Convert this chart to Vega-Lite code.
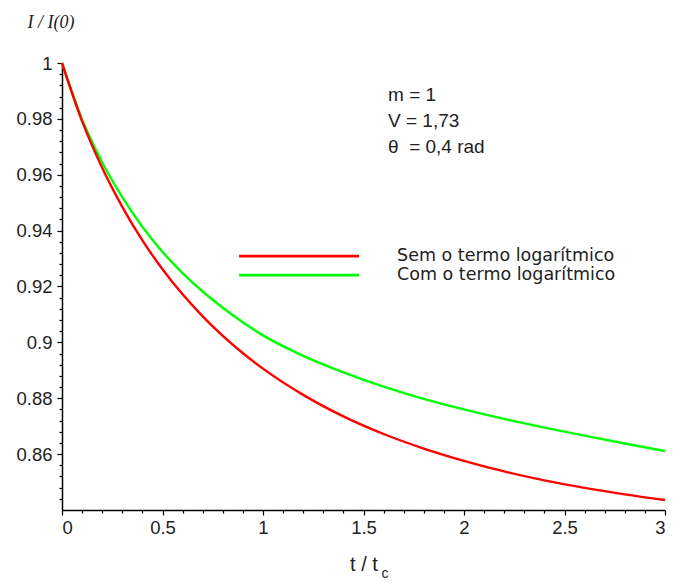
{
  "$schema": "https://vega.github.io/schema/vega-lite/v6.json",
  "autosize": "none",
  "width": 603,
  "height": 447,
  "padding": {"left": 62, "top": 63, "right": 8, "bottom": 73},
  "background": "white",
  "config": {
    "view": {"stroke": null},
    "font": "Liberation Sans",
    "axis": {"grid": false, "domainColor": "#000", "domainWidth": 1.5, "tickColor": "#000", "tickWidth": 1.2, "labelColor": "#222", "labelFont": "Liberation Sans", "labelFontSize": 18.5, "titleColor": "#222"}
  },
  "datasets": {
    "curves": [
      {"t": 0, "I": 1.0, "serie": "Com o termo logarítmico"},
      {"t": 0.1, "I": 0.9798, "serie": "Com o termo logarítmico"},
      {"t": 0.2, "I": 0.9645, "serie": "Com o termo logarítmico"},
      {"t": 0.3, "I": 0.952, "serie": "Com o termo logarítmico"},
      {"t": 0.4, "I": 0.9414, "serie": "Com o termo logarítmico"},
      {"t": 0.5, "I": 0.9324, "serie": "Com o termo logarítmico"},
      {"t": 0.6, "I": 0.9248, "serie": "Com o termo logarítmico"},
      {"t": 0.7, "I": 0.9182, "serie": "Com o termo logarítmico"},
      {"t": 0.8, "I": 0.9124, "serie": "Com o termo logarítmico"},
      {"t": 0.9, "I": 0.9072, "serie": "Com o termo logarítmico"},
      {"t": 1.0, "I": 0.9025, "serie": "Com o termo logarítmico"},
      {"t": 1.2, "I": 0.8952, "serie": "Com o termo logarítmico"},
      {"t": 1.4, "I": 0.8893, "serie": "Com o termo logarítmico"},
      {"t": 1.6, "I": 0.8842, "serie": "Com o termo logarítmico"},
      {"t": 1.8, "I": 0.8798, "serie": "Com o termo logarítmico"},
      {"t": 2.0, "I": 0.876, "serie": "Com o termo logarítmico"},
      {"t": 2.2, "I": 0.8726, "serie": "Com o termo logarítmico"},
      {"t": 2.4, "I": 0.8695, "serie": "Com o termo logarítmico"},
      {"t": 2.6, "I": 0.8666, "serie": "Com o termo logarítmico"},
      {"t": 2.8, "I": 0.8638, "serie": "Com o termo logarítmico"},
      {"t": 3.0, "I": 0.8611, "serie": "Com o termo logarítmico"},
      {"t": 0, "I": 1.0, "serie": "Sem o termo logarítmico"},
      {"t": 0.1, "I": 0.9792, "serie": "Sem o termo logarítmico"},
      {"t": 0.2, "I": 0.9625, "serie": "Sem o termo logarítmico"},
      {"t": 0.3, "I": 0.9485, "serie": "Sem o termo logarítmico"},
      {"t": 0.4, "I": 0.9365, "serie": "Sem o termo logarítmico"},
      {"t": 0.5, "I": 0.9262, "serie": "Sem o termo logarítmico"},
      {"t": 0.6, "I": 0.9172, "serie": "Sem o termo logarítmico"},
      {"t": 0.7, "I": 0.9093, "serie": "Sem o termo logarítmico"},
      {"t": 0.8, "I": 0.9023, "serie": "Sem o termo logarítmico"},
      {"t": 0.9, "I": 0.8961, "serie": "Sem o termo logarítmico"},
      {"t": 1.0, "I": 0.8906, "serie": "Sem o termo logarítmico"},
      {"t": 1.2, "I": 0.8812, "serie": "Sem o termo logarítmico"},
      {"t": 1.4, "I": 0.8735, "serie": "Sem o termo logarítmico"},
      {"t": 1.6, "I": 0.8672, "serie": "Sem o termo logarítmico"},
      {"t": 1.8, "I": 0.862, "serie": "Sem o termo logarítmico"},
      {"t": 2.0, "I": 0.8576, "serie": "Sem o termo logarítmico"},
      {"t": 2.2, "I": 0.8538, "serie": "Sem o termo logarítmico"},
      {"t": 2.4, "I": 0.8506, "serie": "Sem o termo logarítmico"},
      {"t": 2.6, "I": 0.8479, "serie": "Sem o termo logarítmico"},
      {"t": 2.8, "I": 0.8456, "serie": "Sem o termo logarítmico"},
      {"t": 3.0, "I": 0.8436, "serie": "Sem o termo logarítmico"}
    ],
    "legend": [
      {"serie": "Sem o termo logarítmico", "x1": 0.881, "x2": 1.478, "y": 0.9309, "tx": 1.667},
      {"serie": "Com o termo logarítmico", "x1": 0.881, "x2": 1.478, "y": 0.9241, "tx": 1.667}
    ],
    "notes": [
      {"label": "m = 1", "x": 1.622, "y": 0.9885},
      {"label": "V = 1,73", "x": 1.622, "y": 0.9792},
      {"label": "θ\u00a0 = 0,4 rad", "x": 1.622, "y": 0.970}
    ],
    "sub": [
      {"label": "c", "x": 1.59, "y": 0.817}
    ]
  },
  "resolve": {"axis": {"x": "independent", "y": "independent"}},
  "layer": [
    {
      "data": {"name": "curves"},
      "mark": {"type": "line", "strokeWidth": 2.4, "interpolate": "monotone", "clip": false},
      "encoding": {
        "x": {"field": "t", "type": "quantitative", "scale": {"domain": [0, 3], "nice": false, "zero": false},
          "axis": {"orient": "bottom", "values": [0, 0.5, 1, 1.5, 2, 2.5, 3], "format": "~g", "tickSize": 5, "labelPadding": 3, "title": "t / t", "titleFont": "Liberation Sans", "titleFontSize": 20, "titleFontWeight": "normal", "titlePadding": 18}},
        "y": {"field": "I", "type": "quantitative", "scale": {"domain": [0.84, 1], "nice": false, "zero": false},
          "axis": {"orient": "left", "values": [0.86, 0.88, 0.9, 0.92, 0.94, 0.96, 0.98, 1], "format": "~g", "tickSize": 5, "labelPadding": 5, "title": "I / I(0)", "titleFont": "Liberation Serif", "titleFontStyle": "italic", "titleFontWeight": "normal", "titleFontSize": 18, "titleAngle": 0, "titleAlign": "left", "titleBaseline": "middle", "titleX": -35, "titleY": -41}},
        "color": {"field": "serie", "type": "nominal", "sort": null, "scale": {"domain": ["Sem o termo logarítmico", "Com o termo logarítmico"], "range": ["#ff0000", "#00ff00"]}, "legend": null}
      }
    },
    {
      "data": {"name": "legend"},
      "mark": {"type": "rule", "strokeWidth": 2.8},
      "encoding": {
        "x": {"field": "x1", "type": "quantitative", "axis": {"orient": "bottom", "values": [0.1,0.2,0.3,0.4,0.6,0.7,0.8,0.9,1.1,1.2,1.3,1.4,1.6,1.7,1.8,1.9,2.1,2.2,2.3,2.4,2.6,2.7,2.8,2.9], "labels": false, "domain": false, "tickSize": 3, "title": null}},
        "x2": {"field": "x2"},
        "y": {"field": "y", "type": "quantitative", "axis": {"orient": "left", "values": [0.844,0.848,0.852,0.856,0.864,0.868,0.872,0.876,0.884,0.888,0.892,0.896,0.904,0.908,0.912,0.916,0.924,0.928,0.932,0.936,0.944,0.948,0.952,0.956,0.964,0.968,0.972,0.976,0.984,0.988,0.992,0.996], "labels": false, "domain": false, "tickSize": 3, "title": null}},
        "color": {"field": "serie", "type": "nominal", "legend": null}
      }
    },
    {
      "data": {"name": "legend"},
      "mark": {"type": "text", "align": "left", "baseline": "middle", "fontSize": 17.5, "font": "DejaVu Sans", "color": "#222"},
      "encoding": {
        "x": {"field": "tx", "type": "quantitative", "axis": null},
        "y": {"field": "y", "type": "quantitative", "axis": null},
        "text": {"field": "serie"}
      }
    },
    {
      "data": {"name": "notes"},
      "mark": {"type": "text", "align": "left", "baseline": "middle", "fontSize": 19, "font": "Liberation Sans", "color": "#222"},
      "encoding": {
        "x": {"field": "x", "type": "quantitative", "axis": null},
        "y": {"field": "y", "type": "quantitative", "axis": null},
        "text": {"field": "label"}
      }
    },
    {
      "data": {"name": "sub"},
      "mark": {"type": "text", "align": "left", "baseline": "middle", "fontSize": 14, "font": "Liberation Sans", "color": "#222", "clip": false},
      "encoding": {
        "x": {"field": "x", "type": "quantitative", "axis": null},
        "y": {"field": "y", "type": "quantitative", "axis": null},
        "text": {"field": "label"}
      }
    }
  ]
}
